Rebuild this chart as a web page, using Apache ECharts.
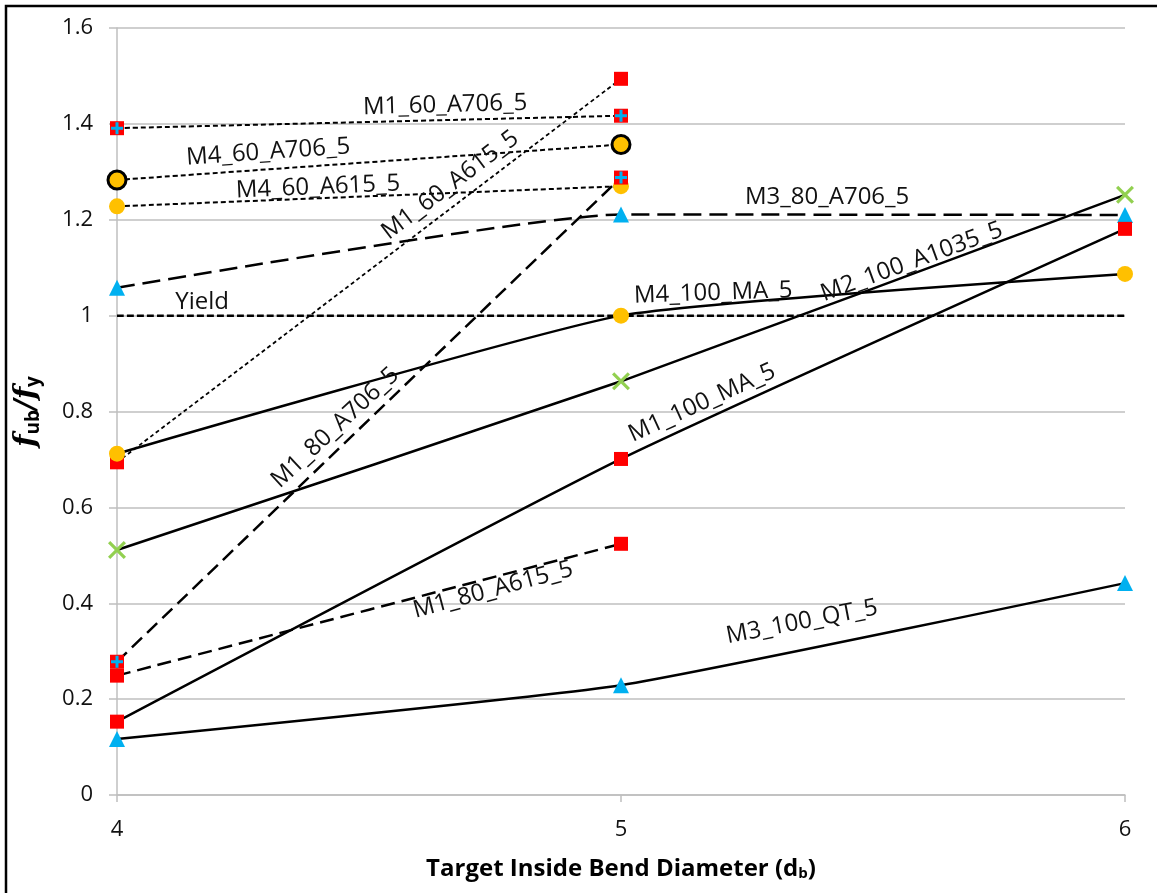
<!DOCTYPE html>
<html>
<head>
<meta charset="utf-8">
<script src="https://cdn.jsdelivr.net/npm/echarts@6/dist/echarts.min.js"></script>
<style>html,body{margin:0;padding:0;background:#fff;}#c{width:1157px;height:893px;}</style>
</head>
<body>
<div id="c"></div>
<script>
// ---- data ----
const xTwo = [4, 5];
const xThree = [4, 5, 6];
const yTicks = [0, 0.2, 0.4, 0.6, 0.8, 1, 1.2, 1.4, 1.6];

const M1_60_A706_5 = [1.391, 1.417];
const M4_60_A706_5 = [1.283, 1.357];
const M4_60_A615_5 = [1.228, 1.270];
const M1_60_A615_5 = [0.694, 1.494];
const M3_80_A706_5 = [1.058, 1.211, 1.210];
const Yield = [1, 1, 1];
const M4_100_MA_5 = [0.712, 1.0, 1.087];
const M2_100_A1035_5 = [0.511, 0.863, 1.252];
const M1_80_A706_5 = [0.278, 1.288];
const M1_100_MA_5 = [0.153, 0.701, 1.181];
const M1_80_A615_5 = [0.249, 0.524];
const M3_100_QT_5 = [0.117, 0.229, 0.442];

// series label annotations: name, x, y, rotation
const labelNames = ["M1_60_A706_5","M4_60_A706_5","M4_60_A615_5","M1_60_A615_5","M3_80_A706_5","Yield","M4_100_MA_5","M2_100_A1035_5","M1_80_A706_5","M1_100_MA_5","M1_80_A615_5","M3_100_QT_5"];
const labelX = [4.651, 4.300, 4.399, 4.661, 5.409, 4.169, 5.183, 5.577, 4.433, 5.161, 4.746, 5.359];
const labelY = [1.439, 1.341, 1.268, 1.272, 1.247, 1.029, 1.047, 1.112, 0.766, 0.818, 0.428, 0.361];
const labelRot = [1.5, 4, 2.5, 37, 0, 0, 2, 20, 43, 24.5, 15, 11];

// ---- styles ----
const RED = '#FF0000', CYAN = '#00B0F0', ORANGE = '#FFC000', GREEN = '#92D050';
const plusPath = 'path://M7.5,0 L12.5,0 L12.5,7.5 L20,7.5 L20,12.5 L12.5,12.5 L12.5,20 L7.5,20 L7.5,12.5 L0,12.5 L0,7.5 L7.5,7.5 Z';
const xPath = 'path://M0,2.5 L2.5,0 L10,7.5 L17.5,0 L20,2.5 L12.5,10 L20,17.5 L17.5,20 L10,12.5 L2.5,20 L0,17.5 L7.5,10 Z';
const FONT = 'Open Sans';

function pairs(xs, ys) { return ys.map((v, i) => [xs[i], v]); }

function lineSeries(name, xs, ys, dash, width, symbol, size, color, extra) {
  return Object.assign({
    name: name, type: 'line', data: pairs(xs, ys),
    smooth: 0.15,
    lineStyle: { color: '#000', width: width, type: dash },
    symbol: symbol, symbolSize: size,
    itemStyle: { color: color },
    showSymbol: symbol !== 'none',
    z: 3
  }, extra || {});
}

const dotted = [5, 3];
const fineDot = [4, 3];
const longDash = [18, 8];
const medDash = [14, 7];

const series = [
  lineSeries('M1_60_A706_5', xTwo, M1_60_A706_5, dotted, 2, 'rect', 14, RED),
  lineSeries('M4_60_A706_5', xTwo, M4_60_A706_5, dotted, 2, 'circle', 18, ORANGE, { itemStyle: { color: ORANGE, borderColor: '#000', borderWidth: 3 } }),
  lineSeries('M4_60_A615_5', xTwo, M4_60_A615_5, dotted, 2, 'circle', 16, ORANGE),
  lineSeries('M1_60_A615_5', xTwo, M1_60_A615_5, fineDot, 1.8, 'rect', 14, RED),
  lineSeries('M3_80_A706_5', xThree, M3_80_A706_5, longDash, 2.5, 'triangle', 16, CYAN),
  lineSeries('Yield', xThree, Yield, [7, 3], 2.5, 'none', 0, '#000'),
  lineSeries('M4_100_MA_5', xThree, M4_100_MA_5, 'solid', 2.5, 'circle', 16, ORANGE),
  lineSeries('M2_100_A1035_5', xThree, M2_100_A1035_5, 'solid', 2.5, xPath, 18, GREEN),
  lineSeries('M1_80_A706_5', xTwo, M1_80_A706_5, medDash, 2.5, 'rect', 14, RED),
  lineSeries('M1_100_MA_5', xThree, M1_100_MA_5, 'solid', 2.5, 'rect', 14, RED),
  lineSeries('M1_80_A615_5', xTwo, M1_80_A615_5, medDash, 2.5, 'rect', 14, RED),
  lineSeries('M3_100_QT_5', xThree, M3_100_QT_5, 'solid', 2.5, 'triangle', 16, CYAN),
  // cyan plus overlays for the crossed-square markers
  { type: 'scatter', data: pairs(xTwo, M1_60_A706_5), symbol: plusPath, symbolSize: 12, itemStyle: { color: CYAN, opacity: 1 }, z: 6, silent: true },
  { type: 'scatter', data: pairs(xTwo, M1_80_A706_5), symbol: plusPath, symbolSize: 12, itemStyle: { color: CYAN, opacity: 1 }, z: 6, silent: true },
  // line name annotations
  {
    type: 'scatter', symbolSize: 0, silent: true, z: 5,
    itemStyle: { opacity: 1 },
    data: labelNames.map((n, i) => ({
      value: [labelX[i], labelY[i]],
      label: { show: true, formatter: n, rotate: labelRot[i], position: 'inside',
               fontFamily: FONT, fontSize: 24, color: '#111' }
    }))
  }
];

const chart = echarts.init(document.getElementById('c'), null, { renderer: 'canvas' });
chart.setOption({
  backgroundColor: '#fff',
  animation: false,
  grid: { left: 117, right: 32, top: 28, bottom: 98, containLabel: false },
  xAxis: {
    type: 'value', min: 4, max: 6, interval: 1,
    name: '{t|Target Inside Bend Diameter (d}{s|b}{t|)}',
    nameLocation: 'middle', nameGap: 62,
    nameTextStyle: { rich: {
      t: { fontFamily: FONT, fontWeight: 'bold', fontSize: 24, color: '#000' },
      s: { fontFamily: FONT, fontWeight: 'bold', fontSize: 15, color: '#000', padding: [9, 0, 0, 0] }
    } },
    axisLine: { show: true, lineStyle: { color: '#bfbfbf', width: 1.5 } },
    axisTick: { show: true, length: 7, lineStyle: { color: '#bfbfbf', width: 1.5 } },
    axisLabel: { fontFamily: FONT, fontSize: 22, color: '#111', margin: 24 },
    splitLine: { show: false }
  },
  yAxis: {
    type: 'value', min: 0, max: 1.6, interval: 0.2,
    name: '{f|f}{s|ub}{f|/f}{s|y}',
    nameLocation: 'middle', nameGap: 74, nameRotate: 90,
    nameTextStyle: { rich: {
      f: { fontFamily: 'DejaVu Serif', fontStyle: 'italic', fontWeight: 'bold', fontSize: 29, color: '#000' },
      s: { fontFamily: FONT, fontWeight: 'bold', fontSize: 19, color: '#000', padding: [12, 0, 0, 0] }
    } },
    axisLine: { show: true, lineStyle: { color: '#bfbfbf', width: 1.5 } },
    axisTick: { show: true, length: 8, lineStyle: { color: '#bfbfbf', width: 1.5 } },
    axisLabel: { fontFamily: FONT, fontSize: 22, color: '#111', margin: 24,
                 formatter: v => String(Math.round(v * 10) / 10) },
    splitLine: { show: true, lineStyle: { color: '#bfbfbf', width: 1.5 } }
  },
  graphic: [
    { type: 'rect', shape: { x: 6, y: 6, width: 1170, height: 910 }, style: { fill: 'none', stroke: '#000', lineWidth: 2.5 }, z: 100, silent: true }
  ],
  series: series
});
</script>
</body>
</html>
